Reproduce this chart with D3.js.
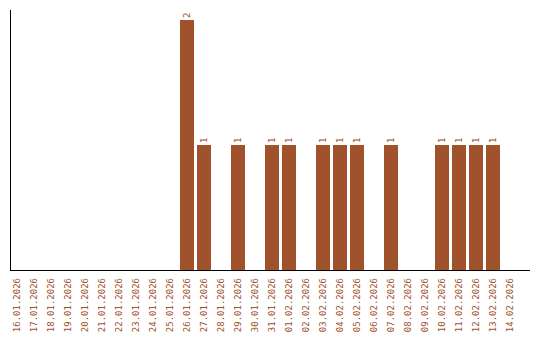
<!DOCTYPE html>
<html>
<head>
<meta charset="utf-8">
<script src="https://cdn.jsdelivr.net/npm/d3@7"></script>
<style>
body { margin: 0; background: #fff; }
text { font-family: "DejaVu Sans Mono", monospace; font-size: 9px; fill: #a0522d; }
</style>
</head>
<body>
<div id="chart"></div>
<script>
var days = ["16.01.2026","17.01.2026","18.01.2026","19.01.2026","20.01.2026","21.01.2026",
            "22.01.2026","23.01.2026","24.01.2026","25.01.2026","26.01.2026","27.01.2026",
            "28.01.2026","29.01.2026","30.01.2026","31.01.2026","01.02.2026","02.02.2026",
            "03.02.2026","04.02.2026","05.02.2026","06.02.2026","07.02.2026","08.02.2026",
            "09.02.2026","10.02.2026","11.02.2026","12.02.2026","13.02.2026","14.02.2026"]
var counts = [0,0,0,0,0,0,0,0,0,0,2,1,0,1,0,1,1,0,1,1,1,0,1,0,0,1,1,1,1,0]

var w = 540, h = 340

var svg = d3.select("#chart").append("svg")
    .attr("width", w)
    .attr("height", h)

var x = d3.scaleBand()
    .domain(days)
    .range([10, 517])
    .paddingInner(3/17)
    .paddingOuter(0)

var y = d3.scaleLinear()
    .domain([0, 2])
    .range([270, 20])

var rows = days.map(function(d, i) { return {day: d, n: counts[i]} })

svg.selectAll("rect.bar")
    .data(rows.filter(function(d) { return d.n > 0 }))
    .enter()
    .append("rect")
    .attr("class", "bar")
    .attr("x", function(d) { return x(d.day) })
    .attr("y", function(d) { return y(d.n) })
    .attr("width", x.bandwidth())
    .attr("height", function(d) { return y(0) - y(d.n) })
    .style("fill", "#a0522d")

// value labels, rotated
svg.selectAll("text.val")
    .data(rows.filter(function(d) { return d.n > 0 }))
    .enter()
    .append("text")
    .attr("class", "val")
    .attr("transform", function(d) {
        return "translate(" + (x(d.day) + x.bandwidth()/2 + 3) + "," + (y(d.n) - 2) + ") rotate(-90)"
    })
    .attr("text-anchor", "start")
    .text(function(d) { return d.n })

// date labels
svg.selectAll("text.day")
    .data(days)
    .enter()
    .append("text")
    .attr("class", "day")
    .attr("transform", function(d) {
        return "translate(" + (x(d) + x.bandwidth()/2 + 3) + ",278) rotate(-90)"
    })
    .attr("text-anchor", "end")
    .text(function(d) { return d })

// axis lines
svg.append("line")
    .attr("x1", 10.5).attr("x2", 10.5)
    .attr("y1", 10).attr("y2", 270)
    .style("stroke", "#000").style("stroke-width", 1)
svg.append("line")
    .attr("x1", 10).attr("x2", 530)
    .attr("y1", 270.5).attr("y2", 270.5)
    .style("stroke", "#000").style("stroke-width", 1)
</script>
</body>
</html>
